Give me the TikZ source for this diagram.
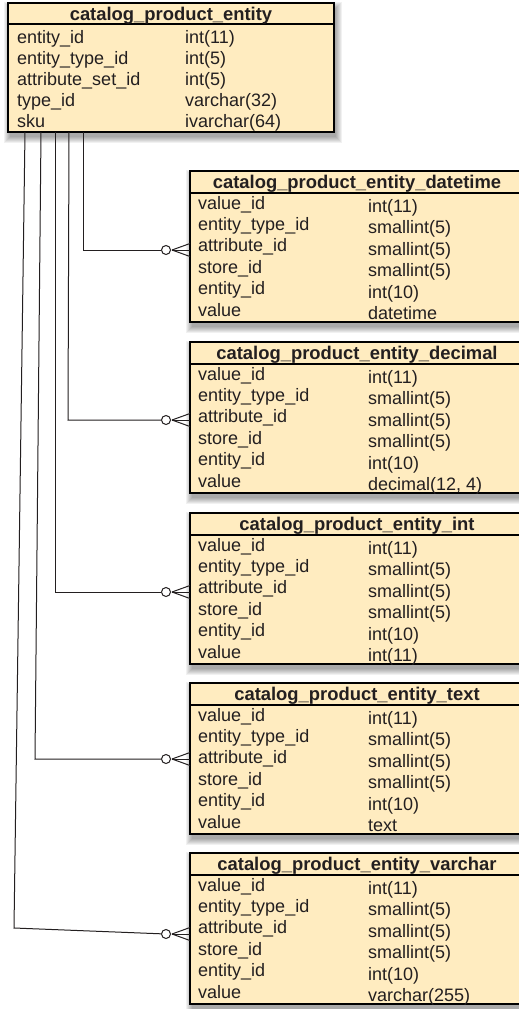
\documentclass[tikz,border=0pt]{standalone}
\usepackage{fontspec}
\setmainfont{Liberation Sans}
\usetikzlibrary{calc}
\definecolor{tfill}{RGB}{255,236,192}
\definecolor{ink}{RGB}{35,31,32}
\newcommand\mkshadow[4]{%
  \foreach \k in {0,...,6}{%
    \fill[black,opacity=0.055] (#1+2-\k,#2+5-\k) rectangle (#1+#3+2+\k,#2+#4+5+\k);}}
\begin{document}
\begin{tikzpicture}[x=1pt,y=-1pt,
  tbox/.style={draw=black, line width=1.3pt, fill=tfill, anchor=north west, inner sep=0pt, outer sep=0pt},
  txt/.style={anchor=base west, inner sep=0pt, text=ink, font=\fontsize{18}{18}\selectfont},
  hdr/.style={anchor=base, inner sep=0pt, text=ink, font=\fontsize{18.4}{18}\selectfont\bfseries},
  hline/.style={draw=black, line width=1.1pt},
  conn/.style={draw=ink, line width=1pt},
  ring/.style={circle, draw=ink, fill=white, line width=1pt, minimum size=9pt, inner sep=0pt}]
\useasboundingbox (0,0) rectangle (519,1009);
\clip (0,0) rectangle (519,1009);
\fill[white] (0,0) rectangle (519,1009);
% main table
\mkshadow{8}{3}{326}{129}
\node[tbox, minimum width=326pt, minimum height=129pt] (main) at (8,3) {};
\draw[hline] (8,24) -- (334,24);
\node[hdr] (mainhdr) at (171,20) {catalog\_product\_entity};
\foreach \r/\nm/\tp in {0/entity\_id/int(11), 1/entity\_type\_id/int(5), 2/attribute\_set\_id/int(5), 3/type\_id/varchar(32), 4/sku/ivarchar(64)}{
  \node[txt] (mn\r) at (17,43+21.2*\r) {\nm};
  \node[txt] (mt\r) at (185,43+21.2*\r) {\tp};
}
% child tables
\foreach \i/\ty/\tname/\last/\xa/\xb/\cy/\cyc in {
  1/171/datetime/datetime/83/83/250/250,
  2/342/decimal/{decimal(12, 4)}/69/68/420/420,
  3/513/int/int(11)/55/55/592/592,
  4/683/text/text/41/35/759/759,
  5/853/varchar/varchar(255)/25/14/928/934}{
  \mkshadow{190}{\ty}{334}{151}
  \node[tbox, minimum width=334pt, minimum height=151pt] (t\i) at (190,\ty) {};
  \draw[hline] (190,\ty+22) -- (524,\ty+22);
  \node[hdr] (h\i) at (357,\ty+17) {catalog\_product\_entity\_\tname};
  \foreach \r/\nm/\tp in {0/value\_id/int(11), 1/entity\_type\_id/smallint(5), 2/attribute\_id/smallint(5), 3/store\_id/smallint(5), 4/entity\_id/int(10), 5/value/\last}{
    \node[txt] (n\i\r) at (198,\ty+38+21.4*\r) {\nm};
    \node[txt] (v\i\r) at (368,\ty+41.5+21.4*\r) {\tp};
  }
  % connector
  \coordinate (s\i) at (\xa,132);
  \coordinate (k\i) at (\xb,\cy);
  \node[ring] (c\i) at (166,\cyc) {};
  \coordinate (f\i) at (172,\cyc);
  \draw[conn] (s\i) -- (k\i) -- (c\i);
  \draw[conn] (f\i) -- (190,\cyc-6.5);
  \draw[conn] (f\i) -- (190,\cyc);
  \draw[conn] (f\i) -- (190,\cyc+6.5);
}
\end{tikzpicture}
\end{document}
